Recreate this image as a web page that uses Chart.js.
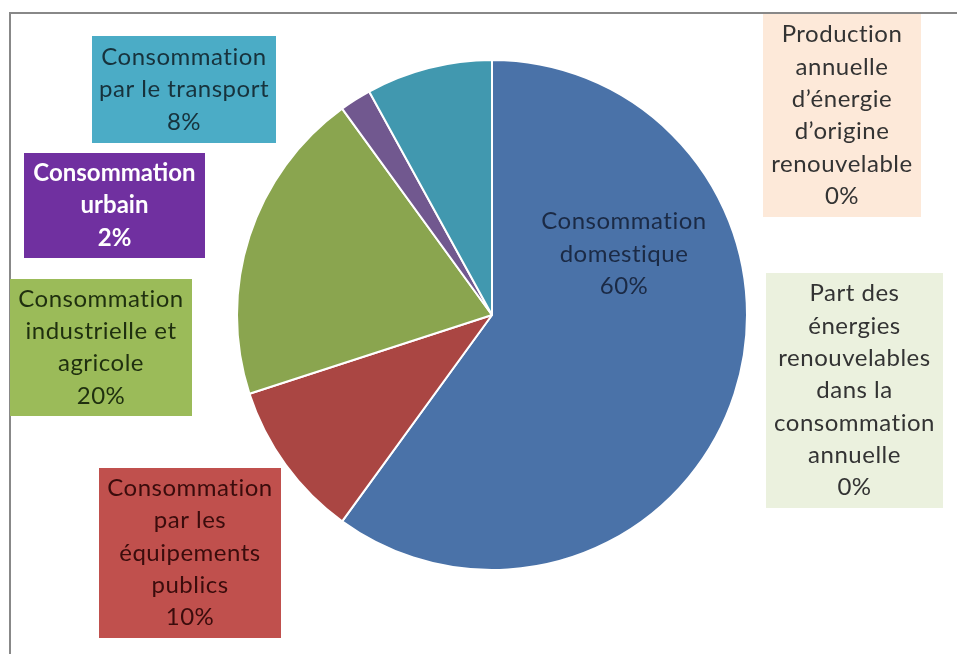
<!DOCTYPE html>
<html>
<head>
<meta charset="utf-8">
<script src="https://cdn.jsdelivr.net/npm/chart.js@4/dist/chart.umd.min.js"></script>
<style>
  html, body { margin: 0; padding: 0; background: #fff; }
  canvas { display: block; }
</style>
</head>
<body>
<canvas id="chart" width="957" height="654"></canvas>
<script>
// category names, already split in lines as in the source chart
const categories = [
  ['Consommation', 'domestique'],
  ['Consommation', 'par les', '\u00e9quipements', 'publics'],
  ['Consommation', 'industrielle et', 'agricole'],
  ['Consommation', 'urbain'],
  ['Consommation', 'par le transport'],
  ['Production', 'annuelle', 'd\u2019\u00e9nergie', 'd\u2019origine', 'renouvelable'],
  ['Part des', '\u00e9nergies', 'renouvelables', 'dans la', 'consommation', 'annuelle']
];
// share of each item, in percent
const shares = [60, 10, 20, 2, 8, 0, 0];
const sliceColors = ['#4a72a8', '#aa4643', '#8aa54f', '#71588f', '#4198af', '#f79646', '#9bbb59'];

// where each data label goes (the first one sits inside the pie, no box)
const labelBoxes = [
  { cx: 624, cy: 254, fill: null, color: '#1b2a45' },
  { x: 99, y: 468, w: 182, h: 170, fill: '#c0504d', color: '#3a0c0c' },
  { x: 10, y: 279, w: 182, h: 137, fill: '#9bbb59', color: '#1f2f0f' },
  { x: 24, y: 153, w: 181, h: 105, fill: '#7030a0', color: '#ffffff', bold: true },
  { x: 92, y: 36, w: 184, h: 107, fill: '#4bacc6', color: '#17323c' },
  { x: 763, y: 14, w: 158, h: 203, fill: '#fde9d9', color: '#333333' },
  { x: 766, y: 273, w: 177, h: 235, fill: '#ebf1de', color: '#333333' }
];

const FONT = 'Lato, "Open Sans", sans-serif';
const LINE_H = 32.3;

const boxLabels = {
  id: 'boxLabels',
  afterDraw(chart) {
    const ctx = chart.ctx;
    ctx.save();
    // chart frame
    ctx.strokeStyle = '#888888';
    ctx.lineWidth = 2;
    ctx.strokeRect(10, 13, 960, 660);

    labelBoxes.forEach((b, i) => {
      const lines = categories[i].concat(shares[i] + '%');
      let cx = b.cx, cy = b.cy;
      if (b.fill) {
        ctx.fillStyle = b.fill;
        ctx.fillRect(b.x, b.y, b.w, b.h);
        cx = b.x + b.w / 2;
        cy = b.y + b.h / 2;
      }
      ctx.fillStyle = b.color;
      ctx.font = (b.bold ? 'bold ' : '') + '24px ' + FONT;
      ctx.letterSpacing = b.bold ? '0px' : '0.5px';
      ctx.textAlign = 'center';
      ctx.textBaseline = 'middle';
      const y0 = cy - (lines.length - 1) * LINE_H / 2;
      lines.forEach((t, k) => ctx.fillText(t, cx, y0 + k * LINE_H));
    });
    ctx.restore();
  }
};

new Chart(document.getElementById('chart'), {
  type: 'pie',
  data: {
    labels: categories,
    datasets: [{
      data: shares,
      backgroundColor: sliceColors,
      borderColor: '#ffffff',
      borderWidth: 2,
      hoverOffset: 0
    }]
  },
  options: {
    responsive: false,
    animation: false,
    devicePixelRatio: 1,
    layout: { padding: { left: 230, right: 203, top: 59, bottom: 83 } },
    plugins: {
      legend: { display: false },
      tooltip: { enabled: false }
    }
  },
  plugins: [boxLabels]
});
</script>
</body>
</html>
